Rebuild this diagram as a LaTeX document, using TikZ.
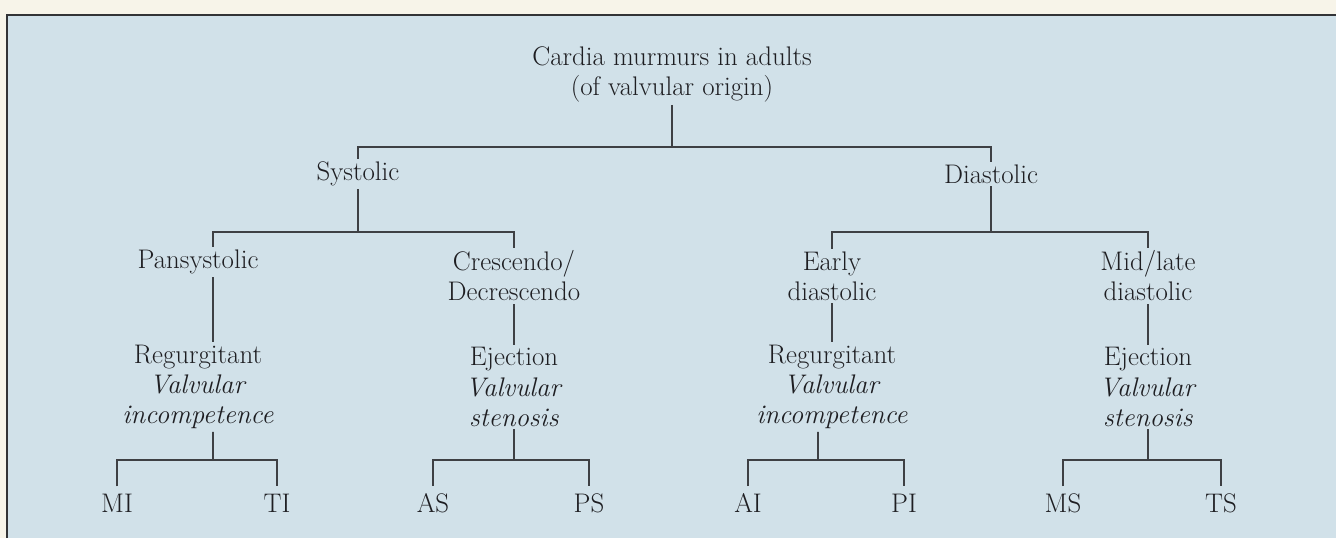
\documentclass[tikz,border=0pt]{standalone}
\usepackage{tikz}
\usetikzlibrary{positioning}
\definecolor{paper}{RGB}{247,244,233}
\definecolor{panel}{RGB}{209,225,233}
\definecolor{ink}{RGB}{30,30,34}
\definecolor{rule}{RGB}{62,64,68}

\begin{document}
\begin{tikzpicture}[
    x=0.02cm, y=-0.02cm,
    term/.style={text=ink, inner sep=1.5pt, align=center, font=\fontsize{15.3}{17.1}\selectfont},
    leaf/.style={term, inner sep=4pt},
    link/.style={draw=rule, line width=0.9pt},
    frame/.style={draw=rule!80!black, line width=1.2pt}
]
    \useasboundingbox (0,0) rectangle (1336,538);

    % Fundo
    \fill[paper] (0,0) rectangle (1336,538);
    \fill[panel] (7,15) rectangle (1336,538);
    \draw[frame] (7,538) -- (7,15) -- (1336,15);

    % Raiz e ramos
    \node[term] (root) at (672,74) {Cardia murmurs in adults\\(of valvular origin)};
    \node[term] (sys) at (358,174) {Systolic};
    \node[term] (dia) at (991,174) {Diastolic};

    \node[term] (pan) at (198,262) {Pansystolic};
    \node[term] (cre) at (514,276) {Crescendo/\\Decrescendo};
    \node[term] (early) at (832,276) {Early\\diastolic};
    \node[term] (mid) at (1148,276) {Mid/late\\diastolic};

    \node[term] (reg1) at (198,387) {Regurgitant\\\textit{Valvular}\\\textit{incompetence}};
    \node[term] (ej1) at (514,387) {Ejection\\\textit{Valvular}\\\textit{stenosis}};
    \node[term] (reg2) at (832,387) {Regurgitant\\\textit{Valvular}\\\textit{incompetence}};
    \node[term] (ej2) at (1148,387) {Ejection\\\textit{Valvular}\\\textit{stenosis}};

    % Folhas
    \node[leaf] (mi) at (117,503) {MI};
    \node[leaf] (ti) at (277,503) {TI};
    \node[leaf] (as) at (433,503) {AS};
    \node[leaf] (ps) at (589,503) {PS};
    \node[leaf] (ai) at (748,503) {AI};
    \node[leaf] (pi) at (904,503) {PI};
    \node[leaf] (ms) at (1063,503) {MS};
    \node[leaf] (ts) at (1221,503) {TS};

    % Junções
    \coordinate (j1) at (672,147);
    \coordinate (j2) at (358,232);
    \coordinate (j3) at (991,232);
    \coordinate (j4) at (213,460);
    \coordinate (j5) at (514,460);
    \coordinate (j6) at (818,460);
    \coordinate (j7) at (1148,460);

    % Ligações
    \draw[link] (root.south) -- (j1);
    \draw[link] (sys.north) |- (j1) -| (dia.north);

    \draw[link] (sys.south) -- (j2);
    \draw[link] ([xshift=3mm]pan.north) |- (j2) -| (cre.north);
    \draw[link] (dia.south) -- (j3);
    \draw[link] (early.north) |- (j3) -| (mid.north);

    \draw[link] ([xshift=3mm]pan.south) -- ([xshift=3mm]reg1.north);
    \draw[link] (cre.south) -- (ej1.north);
    \draw[link] (early.south) -- (reg2.north);
    \draw[link] (mid.south) -- (ej2.north);

    \draw[link] ([xshift=3mm]reg1.south) -- (j4);
    \draw[link] (mi.north) |- (j4) -| (ti.north);
    \draw[link] (ej1.south) -- (j5);
    \draw[link] (as.north) |- (j5) -| (ps.north);
    \draw[link] ([xshift=-2.8mm]reg2.south) -- (j6);
    \draw[link] (ai.north) |- (j6) -| (pi.north);
    \draw[link] (ej2.south) -- (j7);
    \draw[link] (ms.north) |- (j7) -| (ts.north);
\end{tikzpicture}
\end{document}
